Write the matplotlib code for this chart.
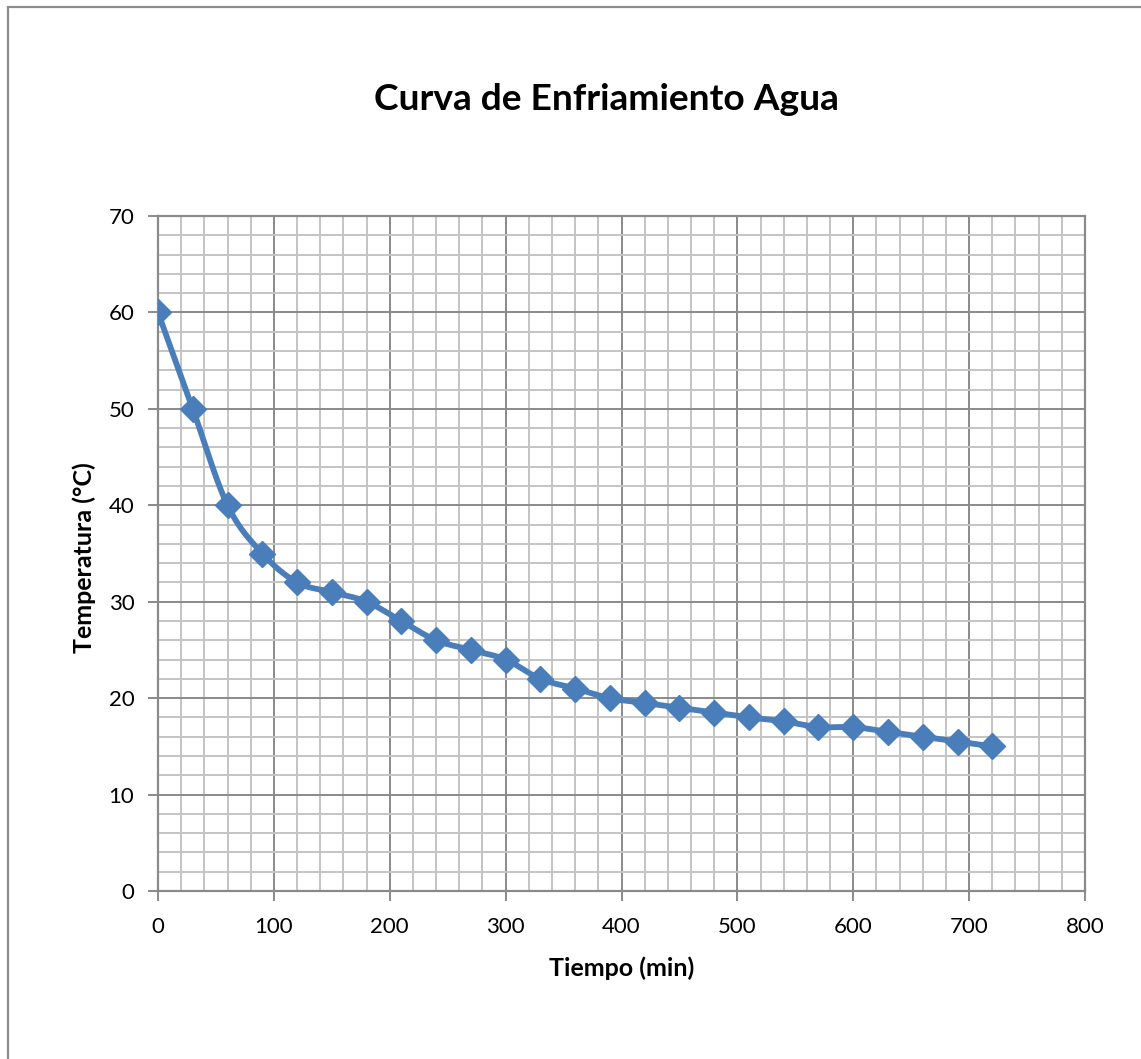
import numpy as np
import matplotlib
matplotlib.use("Agg")
import matplotlib.pyplot as plt
from matplotlib.patches import Rectangle
from matplotlib.ticker import MultipleLocator

# Cooling curve of water: time (min) vs temperature (°C)
tiempo = [0, 30, 60, 90, 120, 150, 180, 210, 240, 270, 300, 330, 360, 390,
          420, 450, 480, 510, 540, 570, 600, 630, 660, 690, 720]
temperatura = [60, 50, 40, 35, 32, 31, 30, 28, 26, 25, 24, 22, 21, 20,
               19.5, 19, 18.5, 18, 17.6, 17, 17, 16.5, 16, 15.5, 15]

x_ticks = [0, 100, 200, 300, 400, 500, 600, 700, 800]
y_ticks = [0, 10, 20, 30, 40, 50, 60, 70]

BLUE = "#4A7EBB"
FONT = "Lato"
W, H = 1141, 1059


def smooth_path(x, y, steps=20):
    """Catmull-Rom curve through the points (smoothed line style)."""
    x = np.asarray(x, float)
    y = np.asarray(y, float)
    px = np.concatenate([[x[0]], x, [x[-1]]])
    py = np.concatenate([[y[0]], y, [y[-1]]])
    xs, ys = [], []
    t = np.linspace(0, 1, steps, endpoint=False)
    for i in range(1, len(px) - 2):
        p0, p1, p2, p3 = (np.array([px[j], py[j]]) for j in (i - 1, i, i + 1, i + 2))
        m1 = (p2 - p0) / 2.0
        m2 = (p3 - p1) / 2.0
        h00 = 2 * t**3 - 3 * t**2 + 1
        h10 = t**3 - 2 * t**2 + t
        h01 = -2 * t**3 + 3 * t**2
        h11 = t**3 - t**2
        pts = (np.outer(h00, p1) + np.outer(h10, m1) +
               np.outer(h01, p2) + np.outer(h11, m2))
        xs.extend(pts[:, 0])
        ys.extend(pts[:, 1])
    xs.append(x[-1])
    ys.append(y[-1])
    return np.array(xs), np.array(ys)


fig = plt.figure(figsize=(W / 100, H / 100), dpi=100)
fig.patch.set_facecolor("white")

# chart-area border
fig.patches.append(Rectangle((8 / W, -0.05), 1.2, 1 - 7 / H + 0.05,
                             transform=fig.transFigure, fill=False,
                             edgecolor="#8c8c8c", linewidth=1.6, zorder=0))

ax = fig.add_axes([158 / W, 1 - 891 / H, (1085 - 158) / W, (891 - 216) / H])
ax.set_xlim(0, 800)
ax.set_ylim(0, 70)

ax.xaxis.set_minor_locator(MultipleLocator(20))
ax.yaxis.set_minor_locator(MultipleLocator(2))
ax.set_xticks(x_ticks)
ax.set_yticks(y_ticks)
ax.set_xticklabels([str(v) for v in x_ticks])
ax.set_yticklabels([str(v) for v in y_ticks])

ax.grid(which="minor", color="#c4c4c4", linewidth=1.4)
ax.grid(which="major", color="#8a8a8a", linewidth=1.4)
ax.set_axisbelow(True)
ax.tick_params(which="minor", length=0)
ax.tick_params(which="major", direction="out", length=7, width=1.4,
               color="#8a8a8a", labelsize=16)
ax.tick_params(axis="x", pad=12)
ax.tick_params(axis="y", pad=10)
for lab in ax.get_xticklabels() + ax.get_yticklabels():
    lab.set_fontfamily(FONT)

for side, sp in ax.spines.items():
    sp.set_color("#8a8a8a")
    sp.set_linewidth(1.6)

sx, sy = smooth_path(tiempo, temperatura)
ax.plot(sx, sy, color=BLUE, linewidth=4.2, solid_capstyle="round", zorder=3)
ax.plot(tiempo, temperatura, linestyle="none", marker="D", markersize=13,
        color=BLUE, markeredgecolor=BLUE, zorder=4)

ax.set_xlabel("Tiempo (min)", fontsize=18, fontweight="bold", fontfamily=FONT)
ax.set_ylabel("Temperatura (°C)", fontsize=18, fontweight="bold", fontfamily=FONT)
ax.xaxis.set_label_coords(0.5, (891 - 956) / 675)
ax.yaxis.set_label_coords((96 - 158) / 927, (891 - 558) / 675)

fig.text(606 / W, 1 - 100 / H, "Curva de Enfriamiento Agua",
         ha="center", va="center", fontsize=26.7, fontweight="bold",
         fontfamily=FONT)

fig.savefig("out.png", dpi=100, facecolor="white")
